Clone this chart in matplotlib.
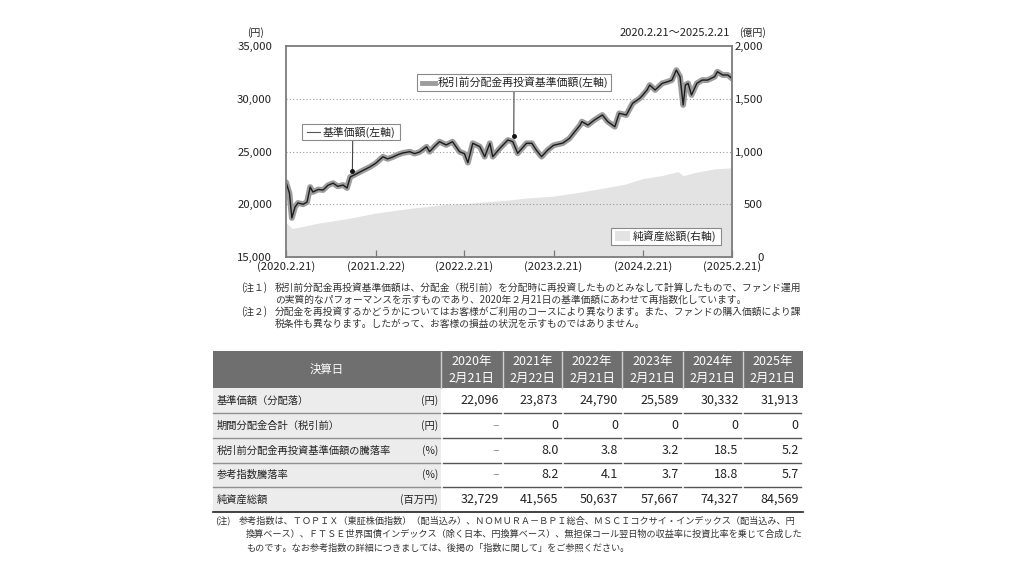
import matplotlib.pyplot as plt
import pandas as pd
from matplotlib.patches import Rectangle
from matplotlib.lines import Line2D

plt.rcParams['font.family'] = ['Noto Sans CJK JP', 'DejaVu Sans']

# ---- データ ----
nav_dates = [
    "2020-02-21", "2020-03-06", "2020-03-16", "2020-03-29", "2020-04-10", "2020-05-01",
    "2020-05-17", "2020-05-30", "2020-06-10", "2020-07-02", "2020-07-22", "2020-08-11",
    "2020-09-01", "2020-09-20", "2020-10-12", "2020-10-28", "2020-11-10", "2020-11-28",
    "2020-12-20", "2021-01-09", "2021-01-29", "2021-02-22", "2021-03-24", "2021-04-12",
    "2021-05-04", "2021-05-24", "2021-06-13", "2021-07-12", "2021-08-01", "2021-08-21",
    "2021-09-19", "2021-10-01", "2021-10-22", "2021-11-11", "2021-12-08", "2022-01-03",
    "2022-02-01", "2022-02-21", "2022-03-07", "2022-03-27", "2022-04-25", "2022-05-15",
    "2022-06-05", "2022-06-17", "2022-07-16", "2022-08-18", "2022-09-07", "2022-09-27",
    "2022-11-02", "2022-11-24", "2022-12-12", "2023-01-03", "2023-01-28", "2023-02-21",
    "2023-03-31", "2023-04-27", "2023-05-19", "2023-06-10", "2023-06-17", "2023-07-12",
    "2023-08-07", "2023-09-09", "2023-10-01", "2023-10-30", "2023-11-17", "2023-12-16",
    "2024-01-11", "2024-02-09", "2024-02-21", "2024-03-10", "2024-03-21", "2024-04-12",
    "2024-05-11", "2024-06-02", "2024-06-20", "2024-07-08", "2024-07-23", "2024-08-05",
    "2024-08-14", "2024-08-25", "2024-09-08", "2024-09-30", "2024-10-22", "2024-11-13",
    "2024-12-12", "2024-12-23", "2025-01-14", "2025-02-04", "2025-02-21",
]
nav = [
    22096, 21060, 18700, 19740, 20120, 20000,
    20200, 21630, 21160, 21400, 21350, 21800,
    22000, 21700, 21820, 21540, 22580, 22800,
    23060, 23300, 23530, 23873, 24500, 24300,
    24480, 24700, 24860, 24980, 24800, 24950,
    25450, 24980, 25500, 25930, 25620, 25930,
    24980, 24790, 23940, 25780, 25460, 24510,
    25780, 24510, 25300, 26090, 25930, 24830,
    25780, 25780, 25140, 24510, 25140, 25589,
    25800, 26240, 26880, 27510, 27830, 27510,
    27980, 28460, 27830, 27350, 28620, 28460,
    29570, 30040, 30332, 30830, 31300, 30830,
    31460, 31610, 31770, 32720, 32090, 29410,
    31300, 31460, 30360, 31460, 31770, 31770,
    32090, 32560, 32250, 32250, 31913,
]
# 分配金は0円のため税引前分配金再投資基準価額は基準価額と同一
nav_reinvest = list(nav)

asset_dates = [
    "2020-02-21", "2020-03-18", "2020-03-29", "2020-07-01", "2020-11-01", "2021-02-22",
    "2021-07-15", "2021-12-10", "2022-02-21", "2022-05-05", "2022-08-21", "2022-11-05",
    "2023-02-21", "2023-06-10", "2023-09-30", "2023-12-10", "2024-02-21", "2024-05-05",
    "2024-07-15", "2024-08-05", "2024-09-20", "2024-12-10", "2025-02-21",
]
net_assets = [  # 億円
    327, 270, 275, 320, 365, 416,
    462, 500, 506, 520, 540, 560,
    577, 615, 660, 690, 743, 770,
    809, 770, 800, 835, 846,
]

tick_dates = ["2020-02-21", "2021-02-22", "2022-02-21", "2023-02-21", "2024-02-21", "2025-02-21"]
tick_labels = ["(2020.2.21)", "(2021.2.22)", "(2022.2.21)", "(2023.2.21)", "(2024.2.21)", "(2025.2.21)"]
left_ticks = [15000, 20000, 25000, 30000, 35000]
right_ticks = [0, 500, 1000, 1500, 2000]

row_labels = ["基準価額（分配落）", "期間分配金合計（税引前）", "税引前分配金再投資基準価額の騰落率",
              "参考指数騰落率", "純資産総額"]
row_units = ["(円)", "(円)", "(%)", "(%)", "(百万円)"]
col_years = ["2020年", "2021年", "2022年", "2023年", "2024年", "2025年"]
col_days = ["2月21日", "2月22日", "2月21日", "2月21日", "2月21日", "2月21日"]
table_values = [
    ["22,096", "23,873", "24,790", "25,589", "30,332", "31,913"],
    ["–", "0", "0", "0", "0", "0"],
    ["–", "8.0", "3.8", "3.2", "18.5", "5.2"],
    ["–", "8.2", "4.1", "3.7", "18.8", "5.7"],
    ["32,729", "41,565", "50,637", "57,667", "74,327", "84,569"],
]

note_top = [
    ("(注１)", "税引前分配金再投資基準価額は、分配金（税引前）を分配時に再投資したものとみなして計算したもので、ファンド運用"),
    ("", "の実質的なパフォーマンスを示すものであり、2020年２月21日の基準価額にあわせて再指数化しています。"),
    ("(注２)", "分配金を再投資するかどうかについてはお客様がご利用のコースにより異なります。また、ファンドの購入価額により課"),
    ("", "税条件も異なります。したがって、お客様の損益の状況を示すものではありません。"),
]
note_bottom = [
    "参考指数は、ＴＯＰＩＸ（東証株価指数）（配当込み）、ＮＯＭＵＲＡ－ＢＰＩ総合、ＭＳＣＩコクサイ・インデックス（配当込み、円",
    "換算ベース）、ＦＴＳＥ世界国債インデックス（除く日本、円換算ベース）、無担保コール翌日物の収益率に投資比率を乗じて合成した",
    "ものです。なお参考指数の詳細につきましては、後掲の「指数に関して」をご参照ください。",
]

W, H = 1024, 576


def fx(px):
    return px / W


def fy(py):
    return 1 - py / H


fig = plt.figure(figsize=(W / 100, H / 100), dpi=100)
fig.patch.set_facecolor("white")

# ---- グラフ ----
ax = fig.add_axes([fx(286), fy(257), (732 - 286) / W, (257 - 46) / H])
ax2 = ax.twinx()
ax.set_zorder(ax2.get_zorder() + 1)
ax.patch.set_visible(False)

d_nav = pd.to_datetime(nav_dates)
d_asset = pd.to_datetime(asset_dates)
d_ticks = pd.to_datetime(tick_dates)

ax2.fill_between(d_asset, 0, net_assets, color="#e3e3e3", lw=0)
ax2.set_ylim(0, 2000)
ax2.set_yticks(right_ticks)
ax2.set_yticklabels([f"{v:,}" for v in right_ticks])
ax2.tick_params(axis="y", length=0, pad=22.5, labelsize=8.2, colors="#222")
for lbl in ax2.get_yticklabels():
    lbl.set_horizontalalignment("right")
for s in ax2.spines.values():
    s.set_visible(False)

ax.plot(d_nav, nav_reinvest, color="#9c9c9c", lw=4.2, solid_joinstyle="round", solid_capstyle="round")
ax.plot(d_nav, nav, color="#1c1c1c", lw=1.0, solid_joinstyle="round")

ax.set_xlim(d_ticks[0], d_ticks[-1])
ax.set_ylim(15000, 35000)
ax.set_yticks(left_ticks)
ax.set_yticklabels([f"{v:,}" for v in left_ticks])
ax.set_xticks(d_ticks)
ax.set_xticklabels(tick_labels)
ax.tick_params(axis="y", length=0, pad=10, labelsize=8.2, colors="#222")
ax.tick_params(axis="x", direction="in", length=5, width=0.9, color="#777", pad=3, labelsize=8.2, labelcolor="#222")
for y in [20000, 25000, 30000]:
    ax.axhline(y, color="#9a9a9a", lw=0.8, linestyle=(0, (1, 2)), zorder=0.5)
for s in ax.spines.values():
    s.set_color("#7c7c7c")
    s.set_linewidth(1.3)

fig.text(fx(255), fy(33), "(円)", fontsize=7.2, ha="center", va="center", color="#222")
fig.text(fx(752), fy(33), "(億円)", fontsize=7.2, ha="center", va="center", color="#222")
fig.text(fx(730), fy(33), "2020.2.21～2025.2.21", fontsize=8, ha="right", va="center", color="#222")

# 凡例ボックスと引き出し線
def legend_box(x0, x1, y0, y1, text, sample):
    fig.add_artist(Rectangle((fx(x0), fy(y1)), (x1 - x0) / W, (y1 - y0) / H, transform=fig.transFigure,
                             facecolor="white", edgecolor="#8a8a8a", lw=0.8, zorder=10))
    ym = (y0 + y1) / 2
    if sample == "thin":
        fig.add_artist(Line2D([fx(x0 + 5), fx(x0 + 18)], [fy(ym), fy(ym)], transform=fig.transFigure,
                              color="#555", lw=0.8, zorder=11))
        tx = x0 + 21
    elif sample == "thick":
        fig.add_artist(Line2D([fx(x0 + 5), fx(x0 + 18)], [fy(ym), fy(ym)], transform=fig.transFigure,
                              color="#9c9c9c", lw=3.5, zorder=11))
        tx = x0 + 21
    else:
        fig.add_artist(Rectangle((fx(x0 + 4), fy(ym + 5)), 15 / W, 10 / H, transform=fig.transFigure,
                                 facecolor="#e3e3e3", lw=0, zorder=11))
        tx = x0 + 22
    fig.text(fx(tx), fy(ym), text, fontsize=7.8, ha="left", va="center", color="#222", zorder=12)


legend_box(302, 400, 124, 140, "基準価額(左軸)", "thin")
legend_box(417, 611, 74, 91, "税引前分配金再投資基準価額(左軸)", "thick")
legend_box(611, 721, 228, 245, "純資産総額(右軸)", "fill")

for (px, py0), (dt, val) in [((352.7, 140), ("2020-11-19", 23150)), ((514, 91), ("2022-09-11", 26500))]:
    ax.annotate("", xy=(pd.Timestamp(dt), val), xycoords="data",
                xytext=(fx(px), fy(py0)), textcoords="figure fraction",
                arrowprops=dict(arrowstyle="-", color="#444", lw=0.8, shrinkA=0, shrinkB=0))
    ax.plot(pd.Timestamp(dt), val, "o", color="#111", ms=2.5, zorder=5)

# ---- 注記 ----
for i, (head, body) in enumerate(note_top):
    y = 288 + i * 12
    if head:
        fig.text(fx(241), fy(y), head, fontsize=7.0, ha="left", va="center", color="#333")
    fig.text(fx(275), fy(y), body, fontsize=7.0, ha="left", va="center", color="#333")

# ---- 表 ----
col_edges = [213, 441, 502.7, 562.3, 622, 682.7, 742.7, 802.7]
row_edges = [388, 413, 438, 462.5, 487, 511.7]
head_top = 351

fig.add_artist(Rectangle((fx(213), fy(388)), (802.7 - 213) / W, (388 - head_top) / H,
                         transform=fig.transFigure, facecolor="#6f6f6f", lw=0))
fig.add_artist(Rectangle((fx(213), fy(511.7)), (441 - 213) / W, (511.7 - 388) / H,
                         transform=fig.transFigure, facecolor="#ececec", lw=0))
for xe in col_edges[1:-1]:
    fig.add_artist(Line2D([fx(xe), fx(xe)], [fy(head_top + 1), fy(388)], transform=fig.transFigure,
                          color="#d0d0d0", lw=1.0))

fig.text(fx((213 + 441) / 2), fy((head_top + 388) / 2), "決算日", fontsize=8.2, ha="center", va="center", color="white")
for j in range(6):
    xc = (col_edges[j + 1] + col_edges[j + 2]) / 2
    fig.text(fx(xc), fy(362), col_years[j], fontsize=9, ha="center", va="center", color="white")
    fig.text(fx(xc), fy(378), col_days[j], fontsize=9, ha="center", va="center", color="white")

for i in range(5):
    ytop, ybot = row_edges[i], row_edges[i + 1]
    yc = (ytop + ybot) / 2
    fig.text(fx(217), fy(yc), row_labels[i], fontsize=7.4, ha="left", va="center", color="#222")
    fig.text(fx(438), fy(yc), row_units[i], fontsize=7.4, ha="right", va="center", color="#222")
    for j in range(6):
        v = table_values[i][j]
        fig.text(fx(col_edges[j + 2] - 4), fy(yc), v, fontsize=9, ha="right",
                 va="center", color="#999" if v == "–" else "#222")
    if i < 4:
        fig.add_artist(Line2D([fx(213), fx(439.5)], [fy(ybot), fy(ybot)], transform=fig.transFigure,
                              color="#909090", lw=1.0))
        for j in range(6):
            fig.add_artist(Line2D([fx(col_edges[j + 1] + 1.5), fx(col_edges[j + 2] - 1.5)], [fy(ybot), fy(ybot)],
                                  transform=fig.transFigure, color="#555", lw=1.0))
fig.add_artist(Line2D([fx(213), fx(802.7)], [fy(511.7), fy(511.7)], transform=fig.transFigure,
                      color="#222", lw=1.2))

# ---- 下部注記 ----
fig.text(fx(215), fy(521), "(注)", fontsize=6.6, ha="left", va="center", color="#333")
for i, line in enumerate(note_bottom):
    x = 239 if i == 0 else 246
    fig.text(fx(x), fy(521 + i * 13.5), line, fontsize=6.6, ha="left", va="center", color="#333")

fig.savefig("out.png", dpi=100)
